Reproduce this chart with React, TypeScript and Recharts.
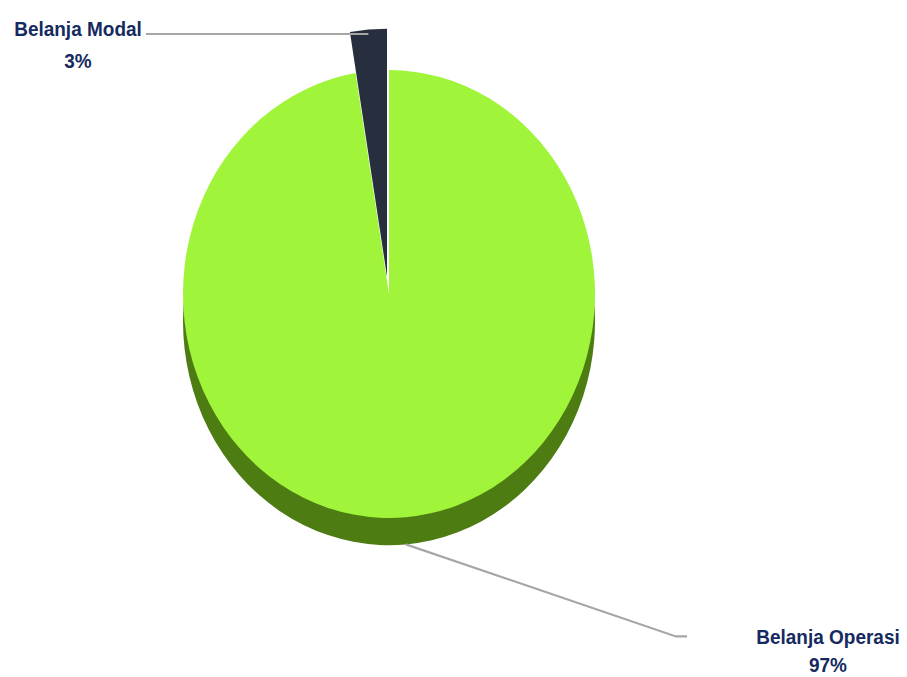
import { PieChart, Pie, Cell } from 'recharts';

const categories = ['Belanja Modal', 'Belanja Operasi'];
const values = [2.6, 97.4];
const percentLabels = ['3%', '97%'];

const topColors = ['#272f3f', '#a0f43a'];
const sideColor = '#4d7c13';

const data = categories.map((name, i) => ({ name, value: values[i], pct: percentLabels[i] }));

const RADIAN = Math.PI / 180;
const SCALE_Y = 1.087;
const CX = 389;
const CY = 270.5;
const R = 206;
const DEPTH = 25;
const EXPLODE = 16;
const textColor = '#152a60';
const lineColor = '#a6a6a6';
const font = '"Liberation Sans", Arial, sans-serif';

function ModalLabel(props: any) {
  const { cx, cy, midAngle, outerRadius, index } = props;
  if (index !== 0) return null;
  const sx = cx + outerRadius * Math.cos(-midAngle * RADIAN);
  const sy = cy + outerRadius * Math.sin(-midAngle * RADIAN) + 4;
  const ex = cx - 241;
  const tx = ex - 68;
  return (
    <g>
      <path d={`M${sx},${sy}L${ex},${sy}`} stroke={lineColor} strokeWidth={2} fill="none" />
      <text x={tx} y={sy + 2} textAnchor="middle" fill={textColor} fontFamily={font} fontWeight="bold" fontSize={19}>
        <tspan x={tx}>{data[0].name}</tspan>
        <tspan x={tx} dy={29}>{data[0].pct}</tspan>
      </text>
    </g>
  );
}

function OperasiLabel(props: any) {
  const { cx, cy, midAngle, outerRadius, index } = props;
  if (index !== 1) return null;
  const sx = cx + outerRadius * Math.cos(-midAngle * RADIAN);
  const sy = cy + outerRadius * Math.sin(-midAngle * RADIAN) + DEPTH;
  const mx = cx + 287;
  const my = cy + 315;
  const ex = mx + 11;
  const tx = cx + 439;
  return (
    <g>
      <path d={`M${sx},${sy}L${mx},${my}L${ex},${my}`} stroke={lineColor} strokeWidth={2} fill="none" />
      <text x={tx} y={my + 7} textAnchor="middle" fill={textColor} fontFamily={font} fontWeight="bold" fontSize={19}>
        <tspan x={tx}>{data[1].name}</tspan>
        <tspan x={tx} dy={26}>{data[1].pct}</tspan>
      </text>
    </g>
  );
}

export default function App() {
  return (
    <div
      style={{
        position: 'absolute',
        left: 0,
        top: 0,
        width: 907,
        height: 623,
        transform: `scaleY(${SCALE_Y})`,
        transformOrigin: 'top left',
        background: '#fff',
      }}
    >
      <PieChart
        width={907}
        height={623}
        margin={{ top: 0, right: 0, bottom: 0, left: 0 }}
        style={{ overflow: 'visible' }}
      >
        {/* side wall */}
        <Pie
          data={data}
          dataKey="value"
          cx={CX}
          cy={CY + DEPTH}
          outerRadius={R}
          startAngle={90}
          endAngle={450}
          stroke="none"
          isAnimationActive={false}
        >
          {data.map((d, i) => (
            <Cell key={d.name} fill={i === 1 ? sideColor : 'transparent'} />
          ))}
        </Pie>
        {/* top face */}
        <Pie
          data={data}
          dataKey="value"
          cx={CX}
          cy={CY}
          outerRadius={R}
          startAngle={90}
          endAngle={450}
          stroke="none"
          label={OperasiLabel}
          labelLine={false}
          isAnimationActive={false}
        >
          {data.map((d, i) => (
            <Cell key={d.name} fill={i === 1 ? topColors[1] : 'transparent'} />
          ))}
        </Pie>
        {/* exploded slice */}
        <Pie
          data={data}
          dataKey="value"
          cx={CX - 2}
          cy={CY - EXPLODE}
          outerRadius={R + 22}
          startAngle={90}
          endAngle={450}
          stroke="none"
          label={ModalLabel}
          labelLine={false}
          isAnimationActive={false}
        >
          {data.map((d, i) => (
            <Cell key={d.name} fill={i === 0 ? topColors[0] : 'transparent'} />
          ))}
        </Pie>
      </PieChart>
    </div>
  );
}
